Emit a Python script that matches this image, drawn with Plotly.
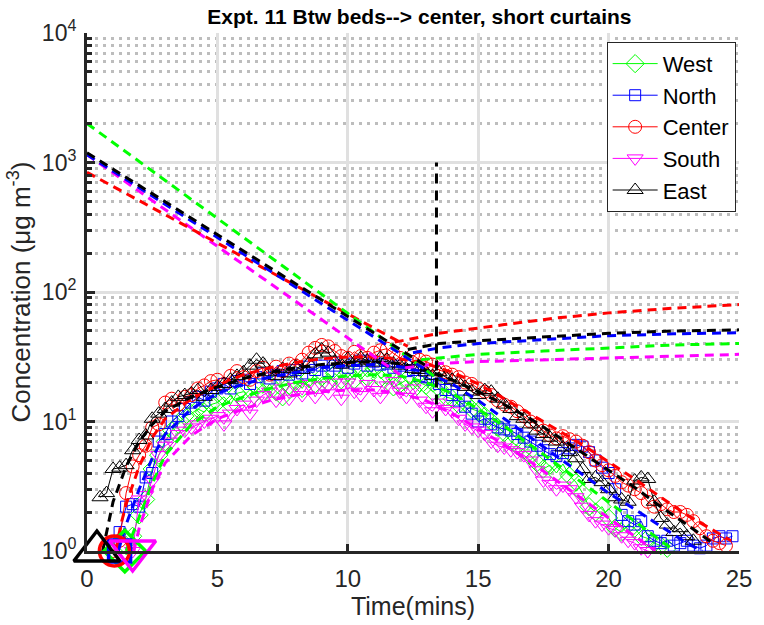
import plotly.graph_objects as go

# ---------------- data ----------------
# sampling clock (minutes): 0.5 .. 24.75 every 0.25 min (rows: first row 2 values, then 4 per minute)
time_min = [0.5, 0.75,
            1.0, 1.25, 1.5, 1.75, 2.0, 2.25, 2.5, 2.75, 3.0, 3.25, 3.5, 3.75,
            4.0, 4.25, 4.5, 4.75, 5.0, 5.25, 5.5, 5.75, 6.0, 6.25, 6.5, 6.75,
            7.0, 7.25, 7.5, 7.75, 8.0, 8.25, 8.5, 8.75, 9.0, 9.25, 9.5, 9.75,
            10.0, 10.25, 10.5, 10.75, 11.0, 11.25, 11.5, 11.75, 12.0, 12.25, 12.5, 12.75,
            13.0, 13.25, 13.5, 13.75, 14.0, 14.25, 14.5, 14.75, 15.0, 15.25, 15.5, 15.75,
            16.0, 16.25, 16.5, 16.75, 17.0, 17.25, 17.5, 17.75, 18.0, 18.25, 18.5, 18.75,
            19.0, 19.25, 19.5, 19.75, 20.0, 20.25, 20.5, 20.75, 21.0, 21.25, 21.5, 21.75,
            22.0, 22.25, 22.5, 22.75, 23.0, 23.25, 23.5, 23.75, 24.0, 24.25, 24.5, 24.75]

N = None
west = [N, N,
        N, N, 1.1, 1.3, 1.9, 2.5, 4.3, 5.5, 7.0, 8.5, 9.5, 11,
        11.5, 12.5, 11.8, 13.5, 14, 15.5, 13.5, 16.5, 17, 15, 18.5, 16.5,
        19.5, 17, 15.5, 19, 20.5, 18, 21.5, 19.5, 22, 20, 23.5, 21,
        24, 21, 25, 22, 25.5, 21.5, 23, 18.5, 19.5, 21, 17.5, 20,
        19, 17, 18, 15.5, 15, 13.5, 14, 12.5, 12, 11, 10, 9.0,
        8.2, 7.0, 6.5, 6.0, 5.5, 4.8, 4.3, 4.6, 4.0, 4.7, 3.8, 3.4,
        2.8, 2.2, 2.0, 2.2, 1.8, 1.5, 1.4, 1.6, 1.5, 1.3, 1.25, 1.15,
        1.1, 1.05, N, N, N, N, N, N, N, N, N, N]

north = [N, N,
         1.1, 1.4, 2.2, 2.3, 2.2, 3.7, 4.0, 7.0, 8.0, 10, 11, 12.5,
         14, 15.5, 14.5, 17, 18, 19.5, 18, 20.5, 21, 19.5, 22, 23.5,
         21.5, 23, 24.5, 23, 25, 23.5, 26.5, 25, 27, 24.5, 27, 28.5,
         26, 28, 29.5, 27, 29, 27.5, 28, 26, 27, 24.5, 25, 22.5,
         22, 21, 19.5, 17.5, 16, 14.5, 13, 11.5, 10, 10.5, 9.5, 9.0,
         8.7, 8.5, 8.0, 7.5, 7.0, 6.5, 6.0, 5.6, 5.4, 5.7, 6.2, 6.6,
         6.4, 5.8, 5.0, 4.4, 4.0, 3.0, 1.9, 1.7, 1.6, 1.7, 1.3, 1.2,
         1.15, 1.2, 1.1, 1.15, 1.2, 1.1, 1.05, 1.1, 1.25, 1.3, 1.25, 1.3]

center = [N, N,
          1.0, 1.2, 2.8, 4.5, 5.5, 6.5, 9, 9.5, 14, 15, 13.5, 15.5,
          16, 18, 19, 20.5, 21, 19.5, 22.5, 24.5, 22, 21, 24.5, 26,
          23, 26.5, 24.5, 28, 27, 30, 34, 37, 39, 38, 35, 32,
          31, 34.5, 32, 31, 34, 35.5, 36.5, 33.5, 31, 29.5, 32.5, 30,
          29, 27.5, 25, 24, 23, 22, 20, 19.5, 18, 17, 16, 14.5,
          13.5, 13, 12, 11, 10, 9.5, 8.5, 7.8, 7.4, 7.7, 7.3, 7.0,
          6.5, 5.8, 5.0, 4.6, 4.2, 3.8, 3.4, 3.2, 3.0, 2.8, 2.4, 2.2,
          2.3, 2.1, 2.0, 2.0, 1.9, 1.7, 1.5, 1.3, 1.2, 1.15, 1.1, N]

south = [N, N,
         N, N, N, 1.0, 2.5, 2.7, 3.5, 5.5, 6.5, 7.0, 8.0, 8.5,
         9.0, 9.5, 10, 10.5, 11, 9.5, 11.5, 12.5, 13.5, 11.5, 14.5, 16,
         17, 14.5, 18, 15, 18.5, 16, 19.5, 15.5, 19, 16.5, 20, 15,
         20, 17, 16, 19.5, 17.5, 15.5, 19, 20.5, 17, 15.5, 18, 14.5,
         13, 12, 14, 12.5, 12, 10.5, 9.5, 9.0, 8.5, 8.0, 7.0, 6.5,
         6.3, 6.0, 5.8, 5.5, 5.0, 4.2, 3.5, 3.3, 3.0, 3.2, 3.0, 2.6,
         2.2, 1.9, 1.7, 1.6, 1.5, 1.45, 1.3, 1.2, 1.15, 1.05, 1.0, 0.97,
         0.97, N, N, N, N, N, N, N, N, N, N, N]

east = [2.6, 2.8,
        4.3, 4.4, 4.6, 6.0, 7.2, 7.8, 10.5, 11.5, 12.5, 14, 15.5, 16,
        16.5, 17.5, 15.5, 17.5, 18.5, 19.5, 21, 22.5, 24, 27, 30, 28,
        24, 22.5, 25.5, 23.5, 26.5, 25, 28, 33, 36, 34, 29, 27.5,
        30.5, 28.5, 31, 29.5, 28.5, 31, 30, 28, 27, 28.5, 25.5, 25,
        24, 22.5, 24, 22, 21, 20, 18.5, 17, 16, 17.5, 17, 15,
        13.5, 12.5, 11, 10.5, 9.5, 8.5, 8.0, 7.5, 7.0, 6.3, 5.8, 5.2,
        4.3, 3.6, 3.7, 3.4, 3.0, 2.6, 2.5, 2.4, 3.5, 3.7, 3.6, 2.4,
        1.8, 1.6, 1.4, 1.5, 1.3, 1.2, N, N, N, N, N, N]

# model fits through the data (dashed)
fit_t_west = [1.5, 2, 2.5, 3, 4, 5, 6, 7, 8, 9, 10, 11, 12, 13, 14, 15, 16, 17, 18, 19, 20, 21, 22, 22.4]
fit_v_west = [1.0, 1.8, 3.3, 5.5, 9.5, 13, 15.5, 18, 20, 21.5, 22.5, 23, 22.5, 20, 16.5, 12.5, 9.2, 6.6, 4.7, 3.4, 2.4, 1.7, 1.2, 1.05]
fit_t_north = [1.2, 1.5, 2, 2.5, 3, 4, 5, 6, 7, 8, 9, 10, 11, 12, 13, 14, 15, 16, 17, 18, 19, 20, 21, 22, 23, 23.6]
fit_v_north = [1.0, 1.6, 3.0, 5.2, 8.0, 12.5, 16.5, 19.5, 22, 24, 26, 27, 27.5, 26.5, 24, 19.5, 14.5, 10.5, 7.5, 5.4, 3.9, 2.8, 2.1, 1.55, 1.15, 1.0]
fit_t_center = [1.1, 1.3, 1.5, 2, 2.5, 3, 4, 5, 6, 7, 8, 9, 10, 11, 12, 13, 14, 15, 16, 17, 18, 19, 20, 21, 22, 23, 24, 24.7]
fit_v_center = [1.0, 1.6, 2.3, 4.5, 7.5, 10.5, 15, 19, 23, 26, 28.5, 30.5, 31.5, 31.5, 30.5, 28, 24, 19.5, 15, 11.5, 8.7, 6.6, 4.9, 3.6, 2.6, 1.9, 1.45, 1.2]
fit_t_south = [1.8, 2, 2.5, 3, 4, 5, 6, 7, 8, 9, 10, 11, 12, 13, 14, 15, 16, 17, 18, 19, 20, 21, 21.8]
fit_v_south = [1.0, 1.5, 3.0, 4.8, 7.8, 10.5, 12.5, 14.5, 16, 17, 17.5, 17.5, 16.5, 14.5, 11.5, 8.8, 6.6, 4.9, 3.5, 2.5, 1.8, 1.3, 1.0]
fit_t_east = [0.6, 0.8, 1.0, 1.5, 2, 2.5, 3, 4, 5, 6, 7, 8, 9, 10, 11, 12, 13, 14, 15, 16, 17, 18, 19, 20, 21, 22, 23, 24]
fit_v_east = [1.0, 1.6, 2.4, 4.5, 7, 9.5, 12, 15.5, 18.5, 21.5, 24, 26, 27.5, 28.5, 29, 28, 25, 21, 17, 13.5, 10.5, 7.8, 5.7, 4.2, 3.1, 2.2, 1.6, 1.15]

# decay lines (start of decay extrapolated back to t = 0)
decay_t_west, decay_v_west = [0, 13.5], [2000, 21]
decay_t_north, decay_v_north = [0, 13.0], [1150, 25]
decay_t_center, decay_v_center = [0, 12.3], [840, 38]
decay_t_south, decay_v_south = [0, 12.0], [1150, 23]
decay_t_east, decay_v_east = [0, 13.0], [1190, 27]

# steady-state build-up lines
rise_t_west, rise_v_west = [12.8, 13.5, 15, 17.5, 20, 22.5, 25], [30, 31, 33, 35, 37, 39, 40]
rise_t_north, rise_v_north = [12.5, 13.5, 15, 17.5, 20, 22.5, 25], [34, 37, 40, 43, 46, 47.5, 48.5]
rise_t_center, rise_v_center = [11.8, 13.5, 16, 18, 20, 22.5, 25], [41, 48, 56, 63, 69, 75, 80]
rise_t_south, rise_v_south = [12.2, 13.5, 15, 17.5, 20, 22.5, 25], [26, 28, 29, 30, 31, 32, 33]
rise_t_east, rise_v_east = [12.3, 13.5, 15, 17.5, 20, 22.5, 25], [36, 40, 42, 45, 48, 50, 51]

# source-off time marker
cutoff_t = [13.4, 13.4]
cutoff_v = [10, 1000]

# arrival (start) markers
start_t = {"West": 1.45, "North": 1.25, "Center": 1.05, "South": 1.75, "East": 0.38}
start_v = {"West": 1.0, "North": 1.0, "Center": 1.0, "South": 1.0, "East": 1.0}

names = ["West", "North", "Center", "South", "East"]
# ---------------- styling ----------------
colors = {"West": "#00ff00", "North": "#0000ff", "Center": "#ff0000", "South": "#ff00ff", "East": "#000000"}
symbols = {"West": "diamond-open", "North": "square-open", "Center": "circle-open",
           "South": "triangle-down-open", "East": "triangle-up-open"}
msize = {"West": 14, "North": 11, "Center": 13, "South": 14, "East": 14}
big_size = {"West": 32, "North": 22, "Center": 30, "South": 40, "East": 40}

series = {"West": west, "North": north, "Center": center, "South": south, "East": east}
fits = {"West": (fit_t_west, fit_v_west), "North": (fit_t_north, fit_v_north),
        "Center": (fit_t_center, fit_v_center), "South": (fit_t_south, fit_v_south),
        "East": (fit_t_east, fit_v_east)}
decays = {"West": (decay_t_west, decay_v_west), "North": (decay_t_north, decay_v_north),
          "Center": (decay_t_center, decay_v_center), "South": (decay_t_south, decay_v_south),
          "East": (decay_t_east, decay_v_east)}
rises = {"West": (rise_t_west, rise_v_west), "North": (rise_t_north, rise_v_north),
         "Center": (rise_t_center, rise_v_center), "South": (rise_t_south, rise_v_south),
         "East": (rise_t_east, rise_v_east)}

FONT = "Liberation Sans, Arial, sans-serif"
DASH = "9px,6px"

fig = go.Figure()

for n in names:
    fig.add_trace(go.Scatter(
        x=time_min, y=series[n], name=n, mode="lines+markers",
        line=dict(color=colors[n], width=1),
        marker=dict(symbol=symbols[n], size=msize[n], color=colors[n], line=dict(width=1, color=colors[n])),
        cliponaxis=False, connectgaps=False))

for n in names:
    ft, fv = fits[n]
    fig.add_trace(go.Scatter(x=ft, y=fv, mode="lines", showlegend=False,
                             line=dict(color=colors[n], width=3, dash=DASH)))
for n in ["South", "Center", "West", "North", "East"]:
    dt, dv = decays[n]
    fig.add_trace(go.Scatter(x=dt, y=dv, mode="lines", showlegend=False,
                             line=dict(color=colors[n], width=3, dash=DASH)))
    rt, rv = rises[n]
    fig.add_trace(go.Scatter(x=rt, y=rv, mode="lines", showlegend=False,
                             line=dict(color=colors[n], width=3, dash=DASH)))

fig.add_trace(go.Scatter(x=cutoff_t, y=cutoff_v, mode="lines", showlegend=False,
                         line=dict(color="#000000", width=3, dash="10px,7px")))

for n in names:
    fig.add_trace(go.Scatter(
        x=[start_t[n]], y=[start_v[n]], mode="markers", showlegend=False, cliponaxis=False,
        marker=dict(symbol=symbols[n], size=big_size[n], color=colors[n],
                    line=dict(width=3.5, color=colors[n]))))

minor_vals = [m * 10 ** d for d in range(4) for m in range(2, 10)]

fig.update_layout(
    width=764, height=625,
    margin=dict(l=87, r=12, t=33, b=73),
    paper_bgcolor="white", plot_bgcolor="white",
    font=dict(family=FONT, color="#262626", size=22),
    title=dict(text="<b>Expt. 11 Btw beds--> center, short curtains</b>",
               x=0.549, xanchor="center", y=0.973, yanchor="middle",
               font=dict(family=FONT, size=21, color="#000000")),
    showlegend=True,
    legend=dict(x=0.797, y=0.983, xanchor="left", yanchor="top",
                bgcolor="white", bordercolor="#262626", borderwidth=1,
                font=dict(family=FONT, size=22, color="#000000"),
                itemwidth=45, tracegroupgap=0),
    xaxis=dict(range=[0, 25], tickvals=[0, 5, 10, 15, 20, 25],
               ticks="inside", ticklen=7, tickwidth=3, tickcolor="#262626",
               showline=True, linewidth=3, linecolor="#262626", mirror=False,
               showgrid=True, gridcolor="#e0e0e0", gridwidth=3, zeroline=False,
               tickfont=dict(size=24, color="#262626"), ticklabelstandoff=4,
               ticklabeloverflow="allow",
               title=dict(text="Time(mins)", font=dict(size=25, color="#262626"), standoff=4)),
    yaxis=dict(type="log", range=[0, 4],
               tickvals=[1, 10, 100, 1000, 10000],
               ticktext=["10<sup>0</sup>", "10<sup>1</sup>", "10<sup>2</sup>", "10<sup>3</sup>", "10<sup>4</sup>"],
               ticks="inside", ticklen=8, tickwidth=3, tickcolor="#262626",
               showline=True, linewidth=3, linecolor="#262626", mirror=False,
               showgrid=True, gridcolor="#e0e0e0", gridwidth=3, zeroline=False,
               tickfont=dict(size=23, color="#262626"), ticklabelstandoff=3,
               ticklabeloverflow="allow",
               minor=dict(tickmode="array", tickvals=minor_vals, ticks="inside", ticklen=5,
                          tickwidth=3, tickcolor="#262626", showgrid=True,
                          gridcolor="#bdbdbd", gridwidth=3, griddash="3px,5px"),
               title=dict(text="Concentration (\u03bcg m<sup>-3</sup>)", font=dict(size=26, color="#262626"), standoff=4)),
)

fig.write_html("out.html")
